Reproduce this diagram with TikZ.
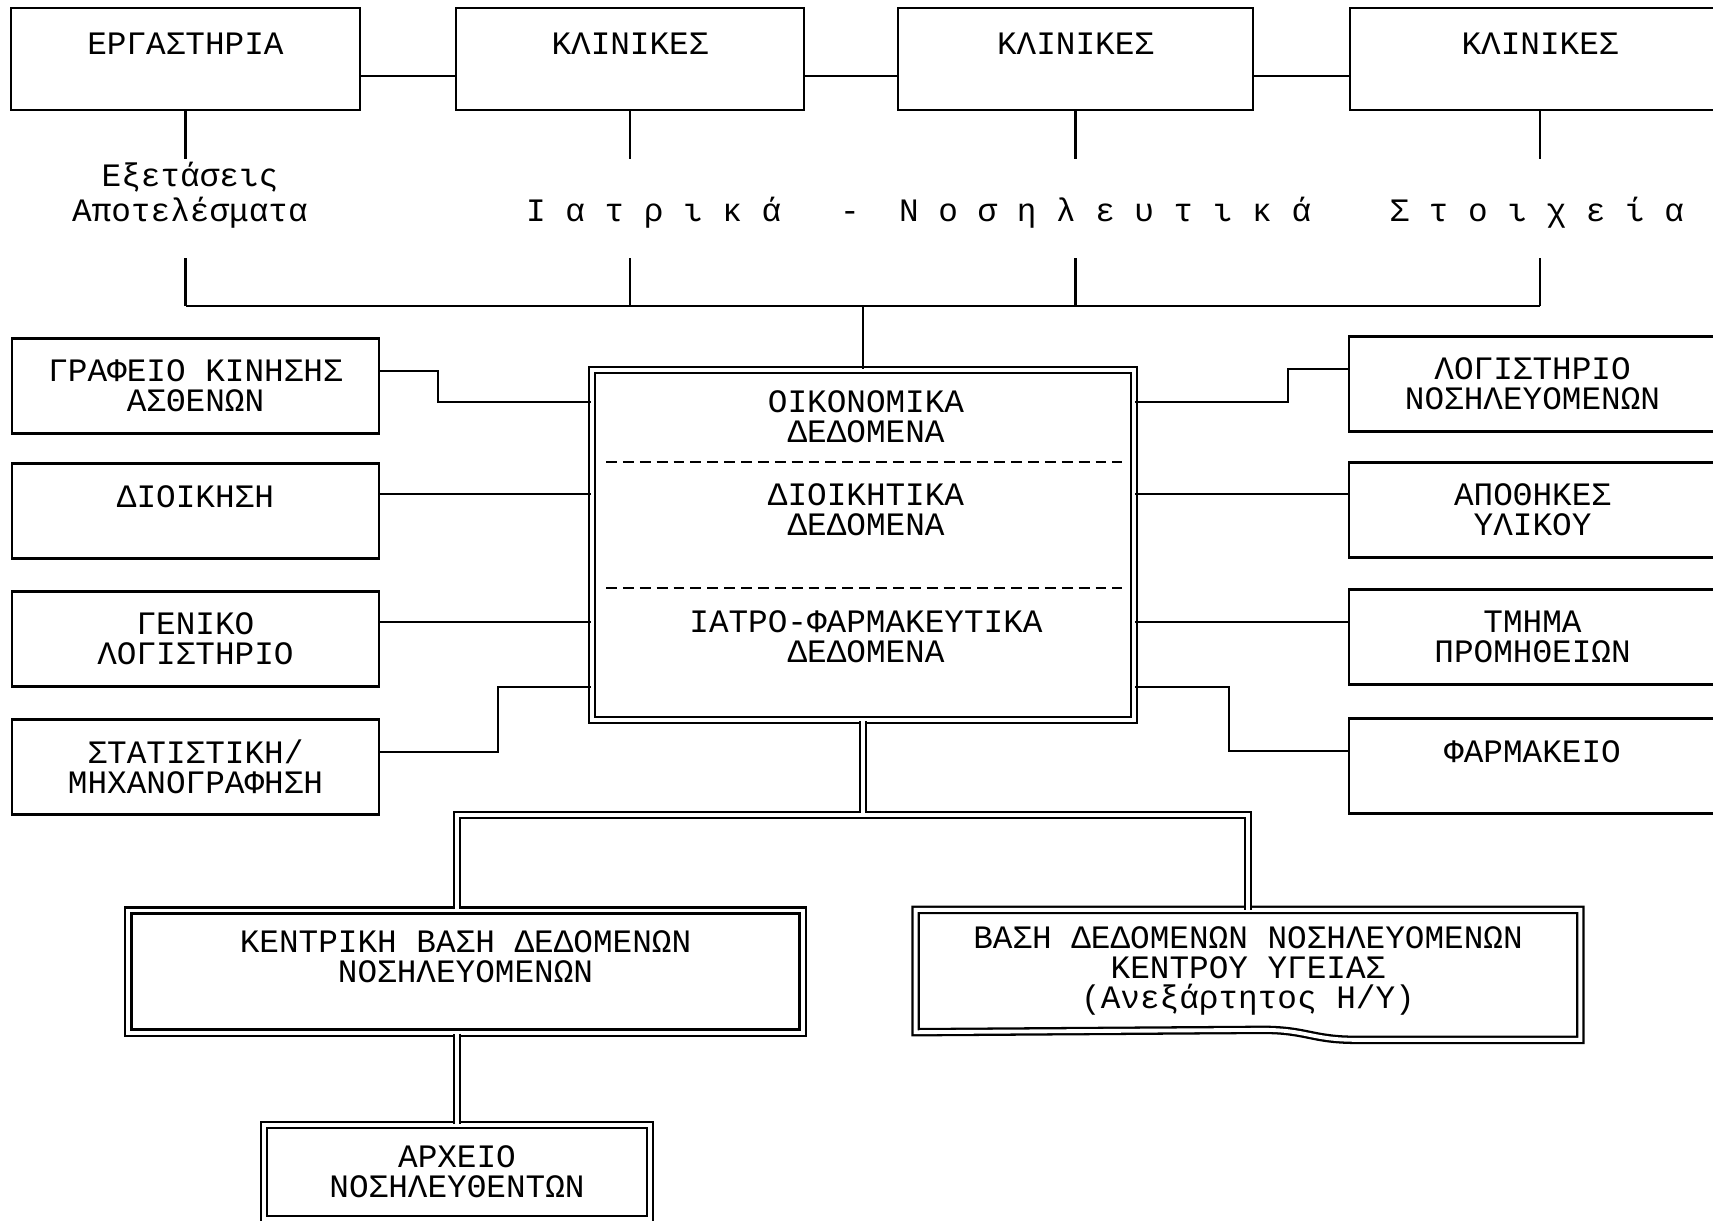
\documentclass[tikz,border=0pt]{standalone}
\usepackage{fontspec}
\setmonofont{Liberation Mono}
\newcommand{\boxfont}{\ttfamily\fontsize{9.3}{8.5}\selectfont}

\begin{document}
\begin{tikzpicture}[x=0.01cm, y=-0.01cm, line width=0.65pt,
	box/.style={draw, fill=white, align=center, inner sep=0pt, font=\boxfont},
	dblbox/.style={box, double, double distance=1.1pt},
	txt/.style={align=center, inner sep=0pt, font=\boxfont},
	divider/.style={line width=0.8pt, dash pattern=on 3.1pt off 1.7pt}]
	\useasboundingbox (0,0) rectangle (1713,1220);
	\fill[white] (0,0) rectangle (1713,1220);
	% top row
	\foreach \n/\x/\w/\lbl in {lab/185.5/3.49/ΕΡΓΑΣΤΗΡΙΑ, clin1/630/3.48/ΚΛΙΝΙΚΕΣ, clin2/1075.5/3.55/ΚΛΙΝΙΚΕΣ, clin3/1540/3.8/ΚΛΙΝΙΚΕΣ}
		\node[box, minimum width=\w cm, minimum height=1.02cm] (\n) at (\x,59) {\lbl\\~};
	\foreach \p/\q in {lab/clin1, clin1/clin2, clin2/clin3}
		\draw ([yshift=-1.7mm]\p.east) -- ([yshift=-1.7mm]\q.west);
	\node[txt] (exams) at (190,195) {Εξετάσεις\\[0.2mm]Αποτελέσματα};
	\node[txt, anchor=base west] (records) at (525,221) {Ι α τ ρ ι κ ά~~~-~~Ν ο σ η λ ε υ τ ι κ ά~~~~Σ τ ο ι χ ε ί α};
	% centre box
	\node[dblbox, minimum width=5.42cm, minimum height=3.5cm] (data) at (863,545) {};
	\node[txt] (econ) at (866,417) {ΟΙΚΟΝΟΜΙΚΑ\\ΔΕΔΟΜΕΝΑ};
	\node[txt] (admdata) at (866,510) {ΔΙΟΙΚΗΤΙΚΑ\\ΔΕΔΟΜΕΝΑ};
	\node[txt] (meddata) at (866,637) {ΙΑΤΡΟ-ΦΑΡΜΑΚΕΥΤΙΚΑ\\ΔΕΔΟΜΕΝΑ};
	\draw[divider] (606,462) -- (1122,462);
	\draw[divider] (606,588) -- (1122,588);
	% side columns
	\foreach \n/\y/\lbl in {office/386/{ΓΡΑΦΕΙΟ ΚΙΝΗΣΗΣ\\ΑΣΘΕΝΩΝ}, admin/511/{ΔΙΟΙΚΗΣΗ\\~}, acct/639/{ΓΕΝΙΚΟ\\ΛΟΓΙΣΤΗΡΙΟ}, stat/767/{ΣΤΑΤΙΣΤΙΚΗ/\\ΜΗΧΑΝΟΓΡΑΦΗΣΗ}}
		\node[box, minimum width=3.67cm, minimum height=0.95cm] (\n) at (195.5,\y) {\lbl};
	\foreach \n/\y/\lbl in {ldger/384/{ΛΟΓΙΣΤΗΡΙΟ\\ΝΟΣΗΛΕΥΟΜΕΝΩΝ}, store/510/{ΑΠΟΘΗΚΕΣ\\ΥΛΙΚΟΥ}, supply/637/{ΤΜΗΜΑ\\ΠΡΟΜΗΘΕΙΩΝ}, pharm/766/{ΦΑΡΜΑΚΕΙΟ\\~}}
		\node[box, minimum width=3.67cm, minimum height=0.95cm] (\n) at (1532.5,\y) {\lbl};
	\foreach \i/\y in {1/402, 2/494, 3/622, 4/687} {
		\coordinate (row\i) at (0,\y);
		\coordinate (dl\i) at (data.west |- row\i);
		\coordinate (dr\i) at (data.east |- row\i);
	}
	\draw ([yshift=1.5mm]office.east) -- ++(58,0) |- (dl1);
	\draw (admin.east |- dl2) -- (dl2);
	\draw (acct.east |- dl3) -- (dl3);
	\draw ([yshift=1.5mm]stat.east) -- ++(118,0) |- (dl4);
	\draw (dr1) -- ++(153,0) |- ([yshift=1.5mm]ldger.west);
	\draw (dr2) -- (dr2 -| store.west);
	\draw (dr3) -- (dr3 -| supply.west);
	\draw (dr4) -- ++(94,0) |- ([yshift=1.5mm]pharm.west);
	% bus under the top row
	\coordinate (busrow) at (0,306);
	\coordinate (bus) at (data.north |- busrow);
	\foreach \n in {lab,clin1,clin2,clin3} {
		\draw (\n.south) -- ++(0,48);
		\draw (\n.south |- bus) -- ++(0,-48);
	}
	\draw (lab.south |- bus) -- (clin3.south |- bus);
	\draw (bus) -- (data.north);
	% databases
	\node[dblbox, minimum width=6.74cm, minimum height=1.22cm] (central) at (465.5,971.5) {ΚΕΝΤΡΙΚΗ ΒΑΣΗ ΔΕΔΟΜΕΝΩΝ\\ΝΟΣΗΛΕΥΟΜΕΝΩΝ\\~};
	\node[txt, minimum width=6.62cm, minimum height=1.2cm] (hcdb) at (1248,971) {ΒΑΣΗ ΔΕΔΟΜΕΝΩΝ ΝΟΣΗΛΕΥΟΜΕΝΩΝ\\ΚΕΝΤΡΟΥ ΥΓΕΙΑΣ\\(Ανεξάρτητος Η/Υ)};
	\draw[double, double distance=1.1pt] (hcdb.south west) -- (hcdb.north west) -- (hcdb.north east) -- ++(0,130) -- ++(-224,0) .. controls +(-45,0) and +(45,0) .. ++(-94,-10) -- cycle;
	\node[dblbox, minimum width=3.86cm, minimum height=0.94cm] (archive) at (457,1172) {ΑΡΧΕΙΟ\\ΝΟΣΗΛΕΥΘΕΝΤΩΝ};
	\coordinate (splitrow) at (0,815);
	\coordinate (split) at (data.south |- splitrow);
	\foreach \col/\lw in {black/2.4pt, white/1.1pt}
		\draw[\col, line width=\lw] (data.south) -- (split)
			(archive.north |- central.north) |- (split) -| (hcdb.north)
			(archive.north |- central.south) -- (archive.north);
\end{tikzpicture}
\end{document}
